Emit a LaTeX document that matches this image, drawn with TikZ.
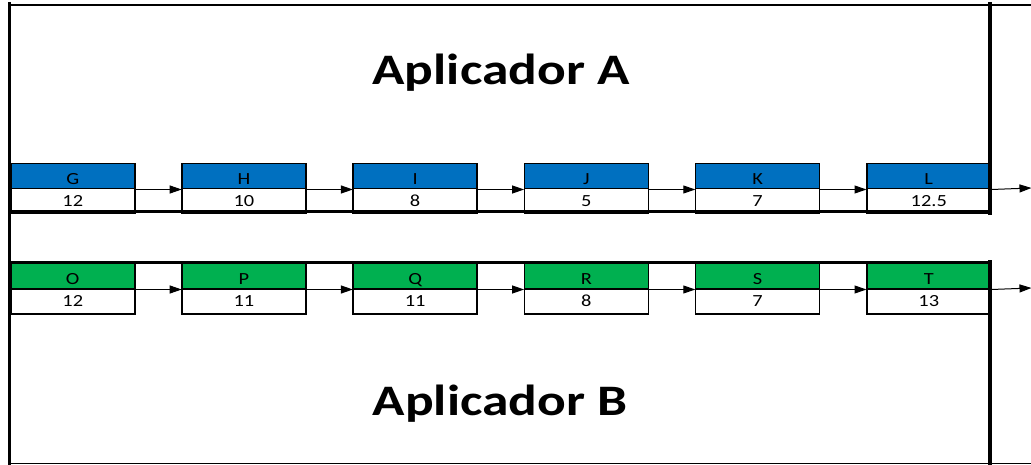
\documentclass[tikz,border=0pt]{standalone}
\usepackage{fontspec}
\setmainfont{Carlito}
\usetikzlibrary{arrows.meta}
\definecolor{hdrblue}{HTML}{0070C0}
\definecolor{hdrgreen}{HTML}{00B050}
\newcommand{\celltxt}[1]{\scalebox{1.2}[1]{\fontsize{17}{20}\selectfont #1}}
\newcommand{\titletxt}[1]{\scalebox{1.23}[1]{\fontsize{43.5}{50}\selectfont\bfseries #1}}
\begin{document}
\begin{tikzpicture}[x=1pt,y=-1pt,
  cellbase/.style={draw=black,line width=1.5pt,rectangle,inner sep=0pt,
    minimum width=124pt,minimum height=25pt,anchor=north west},
  hdrA/.style={cellbase,fill=hdrblue,text height=16pt,text depth=0pt},
  hdrB/.style={cellbase,fill=hdrgreen,text height=16pt,text depth=0pt},
  valcell/.style={cellbase,fill=white},
  arr/.style={draw=black,line width=1pt,-{Triangle[length=12pt,width=8pt]},shorten >=-0.5pt},
  frame/.style={draw=black,line cap=rect},
  title/.style={inner sep=0pt}]
\useasboundingbox (0,0) rectangle (1031,465);
\fill[white] (0,0) rectangle (1031,465);

% titles
\node[title] (titleA) at (501,73) {\titletxt{Aplicador A}};
\node[title] (titleB) at (500,404) {\titletxt{Aplicador B}};

% row A: header and value cells
\foreach \i/\h/\v in {1/G/12,2/H/10,3/I/8,4/J/5,5/K/7,6/L/12.5}{
  \pgfmathsetmacro{\xx}{10+171.2*(\i-1)}
  \node[hdrA] (hA\i) at (\xx,163) {\celltxt{\h}};
  \node[valcell] (vA\i) at (\xx,188) {\celltxt{\v}};
}
% row B: header and value cells
\foreach \i/\h/\v in {1/O/12,2/P/11,3/Q/11,4/R/8,5/S/7,6/T/13}{
  \pgfmathsetmacro{\xx}{10+171.2*(\i-1)}
  \node[hdrB] (hB\i) at (\xx,263) {\celltxt{\h}};
  \node[valcell] (vB\i) at (\xx,288) {\celltxt{\v}};
}

% connectors
\coordinate (endA) at (1031,188);
\coordinate (endB) at (1031,288);
\foreach \a/\b in {1/2,2/3,3/4,4/5,5/6}{
  \draw[arr] (hA\a.south east) -- (hA\b.south west);
  \draw[arr] (hB\a.south east) -- (hB\b.south west);
}
\draw[arr] (hA6.south east) -- (endA);
\draw[arr] (hB6.south east) -- (endB);

% frames around the two groups
\draw[frame,line width=2pt] (9,5) -- (1031,5);
\draw[frame,line width=1.5pt] (9,463.5) -- (1031,463.5);
\draw[frame,line width=3pt] (9.5,4) -- (9.5,465);
\draw[frame,line width=3pt] (10,212) -- (990,212);
\draw[frame,line width=3pt] (10,263) -- (990,263);
\draw[frame,line width=4pt] (990,4) -- (990,213);
\draw[frame,line width=4pt] (990,262) -- (990,465);
\end{tikzpicture}
\end{document}
